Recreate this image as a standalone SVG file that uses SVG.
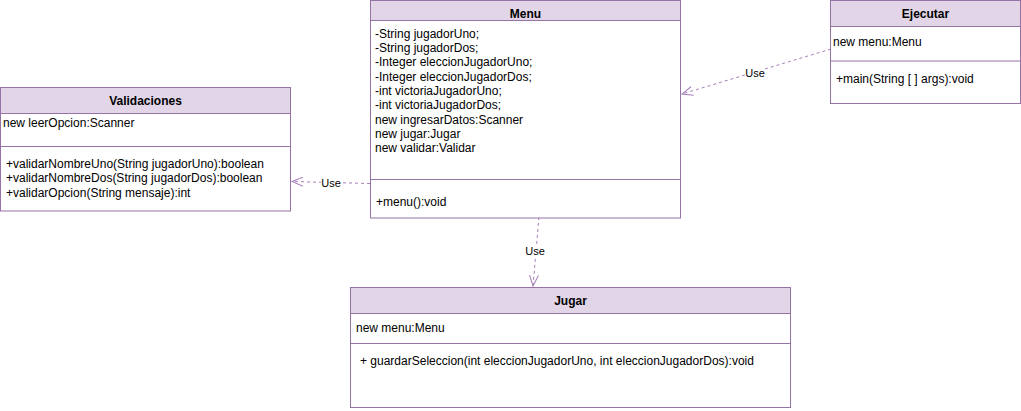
<svg xmlns="http://www.w3.org/2000/svg" width="1021" height="411" viewBox="0 0 1021 411">
<style>
.box{fill:#ffffff;stroke:#9673a6;stroke-width:1}
.hdr{fill:#e1d5e7;stroke:#9673a6;stroke-width:1}
.sep{stroke:#9673a6;stroke-width:1}
.t{font-family:"Liberation Sans",Arial,sans-serif;font-size:12px;fill:#000}
.b{font-weight:bold;text-anchor:middle}
.edge{fill:none;stroke:#a680b8;stroke-width:1;stroke-dasharray:3 3}
.lbl{font-family:"Liberation Sans",Arial,sans-serif;font-size:11px;fill:#000;text-anchor:middle}
.lblbg{fill:#ffffff}
</style>
<defs>
<marker id="open" viewBox="0 0 12 10" refX="11" refY="5" markerWidth="12" markerHeight="10" markerUnits="userSpaceOnUse" orient="auto">
<path d="M0,0.5 L11,5 L0,9.5" fill="none" stroke="#a680b8" stroke-width="1"/>
</marker>
</defs>
<g id="connectors">
<path class="edge" d="M831,49 L682,94" marker-end="url(#open)"/>
<rect class="lblbg" x="745" y="66" width="20" height="13"/>
<text class="lbl" x="755" y="77">Use</text>
<path class="edge" d="M370,183.5 L292,181.5" marker-end="url(#open)"/>
<rect class="lblbg" x="321" y="177" width="20" height="13"/>
<text class="lbl" x="331" y="187">Use</text>
<path class="edge" d="M539,217 L533,286" marker-end="url(#open)"/>
<rect class="lblbg" x="525" y="244" width="20" height="13"/>
<text class="lbl" x="535" y="255">Use</text>
</g>
<g id="Menu">
<rect class="box" x="370.5" y="0.5" width="310" height="217.5"/>
<rect class="hdr" x="370.5" y="0.5" width="310" height="20"/>
<line class="sep" x1="370.5" y1="179.5" x2="680.5" y2="179.5"/>
<text class="t b" x="525.5" y="18">Menu</text>
<text class="t" x="375" y="37.6">-String jugadorUno;</text>
<text class="t" x="375" y="52">-String jugadorDos;</text>
<text class="t" x="375" y="66.3">-Integer eleccionJugadorUno;</text>
<text class="t" x="375" y="80.6">-Integer eleccionJugadorDos;</text>
<text class="t" x="375" y="95">-int victoriaJugadorUno;</text>
<text class="t" x="375" y="109.3">-int victoriaJugadorDos;</text>
<text class="t" x="375" y="123.6">new ingresarDatos:Scanner</text>
<text class="t" x="375" y="138">new jugar:Jugar</text>
<text class="t" x="375" y="152.3">new validar:Validar</text>
<text class="t" x="376" y="206">+menu():void</text>
</g>
<g id="Validaciones">
<rect class="box" x="0.5" y="87.5" width="290" height="123.5"/>
<rect class="hdr" x="0.5" y="87.5" width="290" height="26"/>
<line class="sep" x1="0.5" y1="146.5" x2="290.5" y2="146.5"/>
<text class="t b" x="145.5" y="105">Validaciones</text>
<text class="t" x="3" y="127">new leerOpcion:Scanner</text>
<text class="t" x="6" y="167.5">+validarNombreUno(String jugadorUno):boolean</text>
<text class="t" x="6" y="182">+validarNombreDos(String jugadorDos):boolean</text>
<text class="t" x="6" y="196.5">+validarOpcion(String mensaje):int</text>
</g>
<g id="Ejecutar">
<rect class="box" x="830.5" y="0.5" width="190" height="103"/>
<rect class="hdr" x="830.5" y="0.5" width="190" height="26"/>
<line class="sep" x1="830.5" y1="61" x2="1020.5" y2="61"/>
<text class="t b" x="925.5" y="18">Ejecutar</text>
<text class="t" x="833" y="46">new menu:Menu</text>
<text class="t" x="836" y="83">+main(String [ ] args):void</text>
</g>
<g id="Jugar">
<rect class="box" x="350.5" y="287.5" width="440" height="120"/>
<rect class="hdr" x="350.5" y="287.5" width="440" height="26"/>
<line class="sep" x1="350.5" y1="343.5" x2="790.5" y2="343.5"/>
<text class="t b" x="570.5" y="305">Jugar</text>
<text class="t" x="356" y="331.5">new menu:Menu</text>
<text class="t" x="360" y="365">+ guardarSeleccion(int eleccionJugadorUno, int eleccionJugadorDos):void</text>
</g>
</svg>
